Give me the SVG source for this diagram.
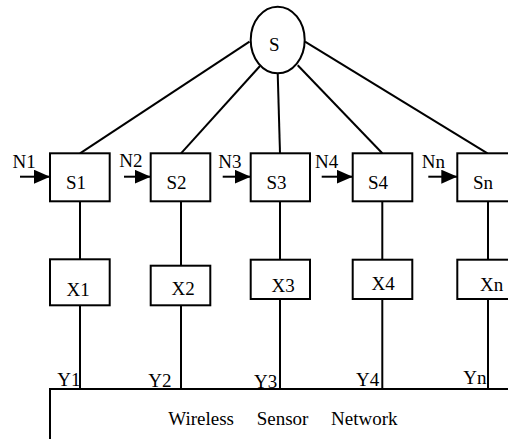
<svg xmlns="http://www.w3.org/2000/svg" width="508" height="439" viewBox="0 0 508 439">
<style>
.box{fill:#fff;stroke:#000;stroke-width:2}
.ln{stroke:#000;stroke-width:2;fill:none}
text{font-family:'Liberation Serif','Times New Roman',serif;font-size:19px;fill:#000}
</style>
<defs>
<marker id="ah" markerWidth="16" markerHeight="14" refX="16" refY="7" orient="auto" markerUnits="userSpaceOnUse">
<path d="M0,0 L16,7 L0,14 Z" fill="#000"/>
</marker>
</defs>
<rect width="508" height="439" fill="#fff"/>
<g id="connectors">
<line class="ln" x1="249.5" y1="41.7" x2="80" y2="153.3"/>
<line class="ln" x1="260" y1="66" x2="181" y2="153.3"/>
<line class="ln" x1="277.7" y1="73" x2="280" y2="153.3"/>
<line class="ln" x1="297.7" y1="65.3" x2="382.3" y2="153.3"/>
<line class="ln" x1="305" y1="41.7" x2="487.5" y2="153.3"/>
<line class="ln" x1="80" y1="201.3" x2="80" y2="259.3"/>
<line class="ln" x1="181" y1="201.3" x2="181" y2="265.7"/>
<line class="ln" x1="280" y1="201.3" x2="280" y2="259.7"/>
<line class="ln" x1="382.3" y1="201.3" x2="382.3" y2="259.7"/>
<line class="ln" x1="488" y1="201.3" x2="488" y2="259.7"/>
<line class="ln" x1="80" y1="305.3" x2="80" y2="389"/>
<line class="ln" x1="181" y1="305.3" x2="181" y2="389"/>
<line class="ln" x1="280" y1="299" x2="280" y2="389"/>
<line class="ln" x1="382.3" y1="299" x2="382.3" y2="389"/>
<line class="ln" x1="488" y1="299" x2="488" y2="389"/>
<line class="ln" x1="20" y1="176.7" x2="50" y2="176.7" marker-end="url(#ah)"/>
<line class="ln" x1="124" y1="176.7" x2="150.7" y2="176.7" marker-end="url(#ah)"/>
<line class="ln" x1="222.7" y1="176.7" x2="250.7" y2="176.7" marker-end="url(#ah)"/>
<line class="ln" x1="321.7" y1="176.7" x2="352.7" y2="176.7" marker-end="url(#ah)"/>
<line class="ln" x1="428.3" y1="176.7" x2="457.3" y2="176.7" marker-end="url(#ah)"/>
</g>
<g font-family="Liberation Serif, serif" font-size="19">
<g id="S">
<ellipse class="box" cx="277.7" cy="40" rx="27" ry="33.3"/>
<text x="269" y="50.7">S</text>
</g>
<g id="S1"><rect class="box" x="50" y="153.3" width="59.7" height="48"/><text x="66" y="189">S1</text></g>
<g id="S2"><rect class="box" x="150.7" y="153.3" width="59.6" height="48"/><text x="166.5" y="189">S2</text></g>
<g id="S3"><rect class="box" x="250.7" y="153.3" width="59.3" height="48"/><text x="266.5" y="189">S3</text></g>
<g id="S4"><rect class="box" x="352.7" y="153.3" width="59.6" height="48"/><text x="368" y="189">S4</text></g>
<g id="Sn"><rect class="box" x="457.3" y="153.3" width="60" height="48"/><text x="473" y="189">Sn</text></g>
<g id="N-labels">
<text x="12.5" y="168.3">N1</text>
<text x="119.3" y="166.7">N2</text>
<text x="218.3" y="168.3">N3</text>
<text x="315" y="168">N4</text>
<text x="421.7" y="168">Nn</text>
</g>
<g id="X1"><rect class="box" x="50" y="259.3" width="59.7" height="46"/><text x="66.5" y="296">X1</text></g>
<g id="X2"><rect class="box" x="150.7" y="265.7" width="59.6" height="39.6"/><text x="171.5" y="295">X2</text></g>
<g id="X3"><rect class="box" x="250.7" y="259.7" width="59.3" height="39.3"/><text x="271.5" y="292.3">X3</text></g>
<g id="X4"><rect class="box" x="352.7" y="259.7" width="59.6" height="39.3"/><text x="371.5" y="290">X4</text></g>
<g id="Xn"><rect class="box" x="457.3" y="259.7" width="60" height="39.3"/><text x="480" y="291">Xn</text></g>
<g id="WSN">
<rect class="box" x="50" y="389" width="480" height="70"/>
<text x="168.3" y="425">Wireless</text>
<text x="256.7" y="425">Sensor</text>
<text x="331" y="425">Network</text>
</g>
<g id="Y-labels">
<text x="57.3" y="385.7">Y1</text>
<text x="148.3" y="386.7">Y2</text>
<text x="254" y="388.3">Y3</text>
<text x="356" y="385.7">Y4</text>
<text x="463.3" y="384.3">Yn</text>
</g>
</g>
</svg>
